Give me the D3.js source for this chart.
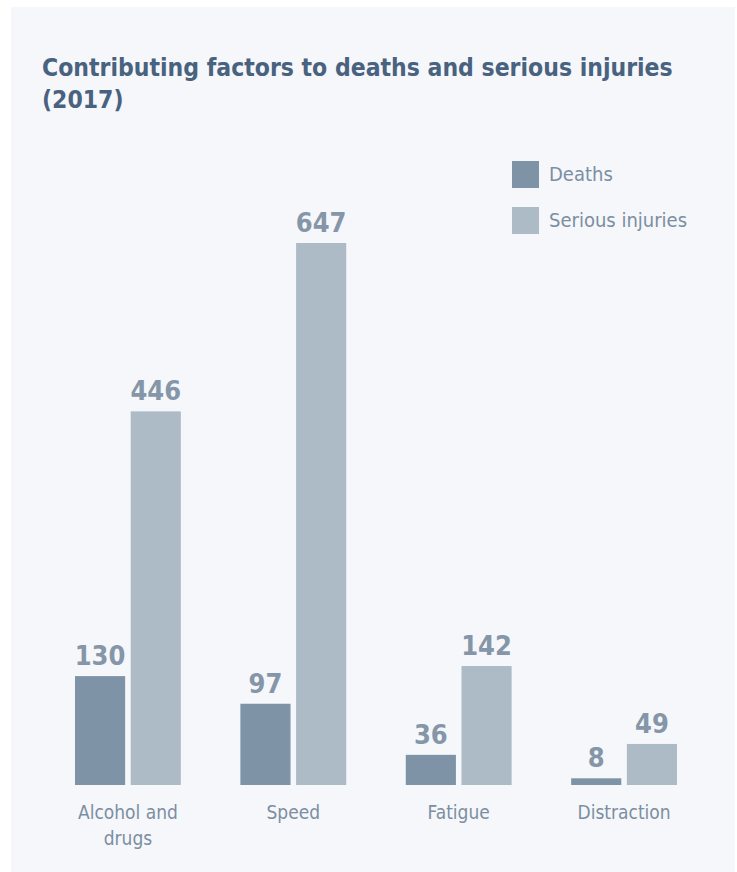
<!DOCTYPE html>
<html>
<head>
<meta charset="utf-8">
<script src="https://cdn.jsdelivr.net/npm/d3@7"></script>
<style>
  body { margin: 0; background: #fff; }
  svg { display: block; }
  text { font-family: "DejaVu Sans Condensed", "Roboto", sans-serif; }
</style>
</head>
<body>
<div id="chart"></div>
<script>
const categories = ["Alcohol and drugs", "Speed", "Fatigue", "Distraction"];
const categoryLines = [["Alcohol and", "drugs"], ["Speed"], ["Fatigue"], ["Distraction"]];
const series = ["Deaths", "Serious injuries"];
const deaths = [130, 97, 36, 8];
const injuries = [446, 647, 142, 49];
const colors = ["#7f93a7", "#adbbc7"];

const width = 737, height = 872;
const svg = d3.select("#chart").append("svg")
  .attr("width", width)
  .attr("height", height);

// panel
svg.append("rect")
  .attr("x", 11).attr("y", 7)
  .attr("width", 724).attr("height", 865)
  .attr("fill", "#f5f7fa");

// title
const title = svg.append("text")
  .attr("x", 42).attr("y", 76)
  .attr("fill", "#48627f")
  .attr("font-size", 24.5)
  .attr("font-weight", "bold");
title.append("tspan").attr("x", 42).text("Contributing factors to deaths and serious injuries");
title.append("tspan").attr("x", 42).attr("dy", 32).text("(2017)");

const baseline = 785;
const x0 = d3.scaleBand().domain(categories).range([75, 677]).paddingInner(0.36).paddingOuter(0);
const x1 = d3.scaleBand().domain(series).range([0, x0.bandwidth()]).paddingInner(0.1);
const y = d3.scaleLinear().domain([0, 647]).range([baseline, 243]);

const rows = categories.map((c, i) => ({ cat: c, values: [deaths[i], injuries[i]] }));

const groups = svg.selectAll("g.grp")
  .data(rows)
  .enter().append("g")
  .attr("class", "grp")
  .attr("transform", d => `translate(${x0(d.cat)},0)`);

groups.selectAll("rect")
  .data(d => d.values.map((v, j) => ({ s: series[j], v, j })))
  .enter().append("rect")
  .attr("x", d => x1(d.s))
  .attr("y", d => y(d.v))
  .attr("width", x1.bandwidth())
  .attr("height", d => baseline - y(d.v))
  .attr("fill", d => colors[d.j]);

groups.selectAll("text.val")
  .data(d => d.values.map((v, j) => ({ s: series[j], v, j })))
  .enter().append("text")
  .attr("class", "val")
  .attr("x", d => x1(d.s) + x1.bandwidth() / 2)
  .attr("y", d => y(d.v) - 11)
  .attr("text-anchor", "middle")
  .attr("fill", "#8596a9")
  .attr("font-size", 27)
  .attr("font-weight", "bold")
  .text(d => d.v);

// category labels
groups.append("text")
  .attr("x", x0.bandwidth() / 2)
  .attr("y", 819)
  .attr("text-anchor", "middle")
  .attr("fill", "#7c8ea2")
  .attr("font-size", 19)
  .selectAll("tspan")
  .data((d, i) => categoryLines[i])
  .enter().append("tspan")
  .attr("x", x0.bandwidth() / 2)
  .attr("dy", (d, i) => i ? 26 : 0)
  .text(d => d);

// legend
const legend = svg.selectAll("g.leg")
  .data(series)
  .enter().append("g")
  .attr("class", "leg")
  .attr("transform", (d, i) => `translate(512,${161 + i * 46})`);

legend.append("rect")
  .attr("width", 27).attr("height", 27)
  .attr("fill", (d, i) => colors[i]);

legend.append("text")
  .attr("x", 37).attr("y", 20)
  .attr("fill", "#7c8ea2")
  .attr("font-size", 20)
  .text(d => d);
</script>
</body>
</html>
